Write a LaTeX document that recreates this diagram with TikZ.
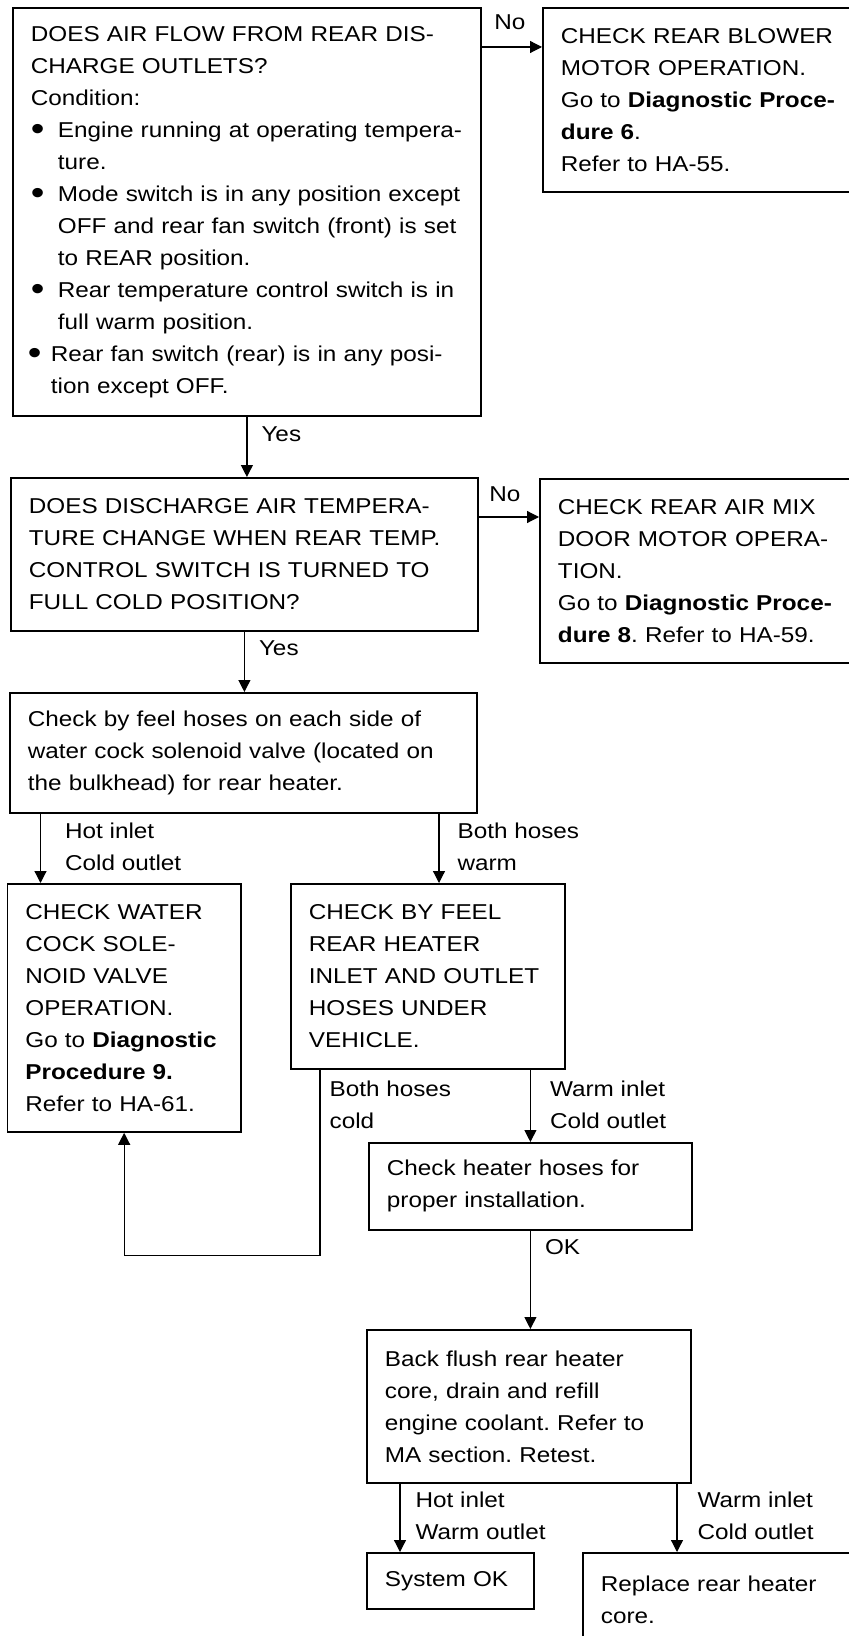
\documentclass[tikz,border=0pt]{standalone}
\usepackage{fontspec}
\setmainfont{Liberation Sans}[FakeStretch=1.13]
\usepackage{graphicx}
\usetikzlibrary{arrows.meta}
\frenchspacing

\newcommand{\bul}{\makebox[13.5pt][l]{\raisebox{-0.25ex}{\scalebox{1.6}{\textbullet}}}}
\newcommand{\ind}{\hspace*{13.5pt}}

\tikzset{
  chartbox/.style={draw, line width=0.9pt, anchor=north west, align=left, inner xsep=9pt, inner ysep=3pt},
  flow/.style={line width=0.6pt, -{Triangle[length=6pt,width=6pt]}},
  lbl/.style={anchor=north west, align=left, inner sep=0pt}
}

\begin{document}
\begin{tikzpicture}[x=0.5pt, y=-0.5pt, font=\fontsize{10.75pt}{16pt}\selectfont]
  \useasboundingbox (0,0) rectangle (848,1636);

  \node[chartbox, text width=216pt, minimum height=204pt] (airflow) at (12,7)
    {DOES AIR FLOW FROM REAR DIS-\\CHARGE OUTLETS?\\Condition:\\
     \bul Engine running at operating tempera-\\\ind ture.\\
     \bul Mode switch is in any position except\\\ind OFF and rear fan switch (front) is set\\\ind to REAR position.\\
     \bul Rear temperature control switch is in\\\ind full warm position.\\
     \hspace*{-1.5pt}\makebox[11.5pt][l]{\raisebox{-0.25ex}{\scalebox{1.6}{\textbullet}}}Rear fan switch (rear) is in any posi-\\\hspace*{10pt}tion except OFF.};
  \node[chartbox, text width=146pt, minimum height=92pt] (blower) at (542,7)
    {CHECK REAR BLOWER\\MOTOR OPERATION.\\Go to \textbf{Diagnostic Proce-}\\\textbf{dure 6}.\\Refer to HA-55.};

  \node[chartbox, text width=215.5pt, minimum height=76.5pt] (tempchg) at (10,477)
    {DOES DISCHARGE AIR TEMPERA-\\TURE CHANGE WHEN REAR TEMP.\\CONTROL SWITCH IS TURNED TO\\FULL COLD POSITION?};
  \node[chartbox, text width=147pt, minimum height=92pt] (mixdoor) at (539,478)
    {CHECK REAR AIR MIX\\DOOR MOTOR OPERA-\\TION.\\Go to \textbf{Diagnostic Proce-}\\\textbf{dure 8}. Refer to HA-59.};

  \node[chartbox, text width=215.5pt, minimum height=60pt] (hosefeel) at (9,692)
    {Check by feel hoses on each side of\\water cock solenoid valve (located on\\the bulkhead) for rear heater.};

  \node[chartbox, text width=98.75pt, minimum height=124pt] (watercock) at (6.5,883)
    {CHECK WATER\\COCK SOLE-\\NOID VALVE\\OPERATION.\\Go to \textbf{Diagnostic}\\\textbf{Procedure 9.}\\Refer to HA-61.};
  \node[chartbox, text width=119pt, minimum height=92.5pt] (feelunder) at (290,883)
    {CHECK BY FEEL\\REAR HEATER\\INLET AND OUTLET\\HOSES UNDER\\VEHICLE.};

  \node[chartbox, text width=143.5pt, minimum height=43.5pt] (hoseinst) at (368,1142)
    {Check heater hoses for\\proper installation.};
  \node[chartbox, text width=144pt, minimum height=76.5pt] (backflush) at (366,1329)
    {Back flush rear heater\\core, drain and refill\\engine coolant. Refer to\\MA section. Retest.};

  \node[chartbox, text width=65.5pt, minimum height=28pt] (sysok) at (366,1552) {System~OK};
  \node[chartbox, text width=121pt, minimum height=46.5pt] (replcore) at (582,1552)
    {Replace rear heater\\core.};

  \coordinate (noA) at ([yshift=-20pt]airflow.north east);
  \coordinate (noB) at ([yshift=-20pt]tempchg.north east);
  \coordinate (hotx) at ([xshift=17pt]watercock.north west);
  \coordinate (warmx) at ([xshift=74.5pt]feelunder.north west);
  \coordinate (coldx) at ([xshift=15pt]feelunder.south west);
  \coordinate (coldturn) at ([yshift=-61.5pt]watercock.south);
  \coordinate (okx) at ([xshift=17pt]sysok.north west);
  \coordinate (corex) at ([xshift=47.5pt]replcore.north west);

  \draw[flow] (noA) -- node[lbl, pos=0, xshift=6pt, yshift=16.5pt] {No} (noA -| blower.west);
  \draw[flow] (airflow.south) -- node[lbl, pos=0, xshift=7pt, yshift=-4.5pt] {Yes} (airflow.south |- tempchg.north);
  \draw[flow] (noB) -- node[lbl, pos=0, xshift=5pt, yshift=15.5pt] {No} (noB -| mixdoor.west);
  \draw[flow] (tempchg.south) -- node[lbl, pos=0, xshift=7pt, yshift=-4pt] {Yes} (tempchg.south |- hosefeel.north);
  \draw[flow] (hotx |- hosefeel.south) -- node[lbl, pos=0, xshift=12pt, yshift=-4.5pt] {Hot inlet\\Cold outlet} (hotx);
  \draw[flow] (warmx |- hosefeel.south) -- node[lbl, pos=0, xshift=9pt, yshift=-4.5pt] {Both hoses\\warm} (warmx);
  \draw[flow] (coldx) |- node[lbl, pos=0, xshift=4.5pt, yshift=-5.5pt] {Both hoses\\cold} (coldturn) -- (watercock.south);
  \draw[flow] (hoseinst.north |- feelunder.south) -- node[lbl, pos=0, xshift=9.5pt, yshift=-5.5pt] {Warm inlet\\Cold outlet} (hoseinst.north);
  \draw[flow] (hoseinst.south) -- node[lbl, pos=0, xshift=7pt, yshift=-4pt] {OK} (hoseinst.south |- backflush.north);
  \draw[flow] (okx |- backflush.south) -- node[lbl, pos=0, xshift=7.5pt, yshift=-4pt] {Hot inlet\\Warm outlet} (okx);
  \draw[flow] (corex |- backflush.south) -- node[lbl, pos=0, xshift=10pt, yshift=-4pt] {Warm inlet\\Cold outlet} (corex);
\end{tikzpicture}
\end{document}
